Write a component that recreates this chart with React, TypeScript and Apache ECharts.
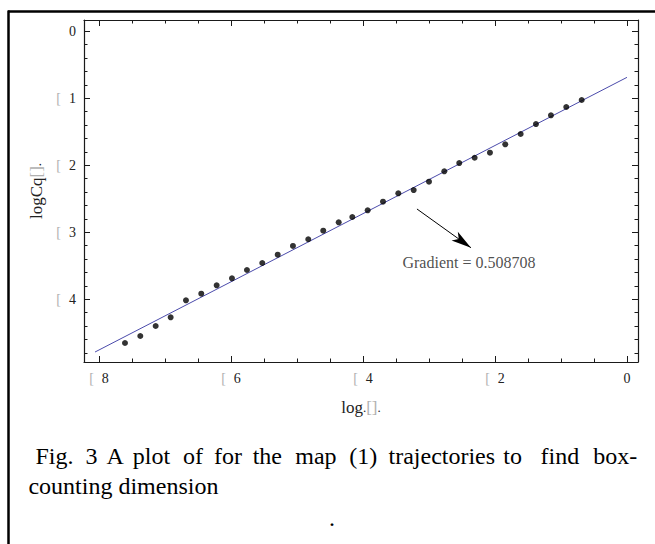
import React, { useEffect, useRef } from "react";
import * as echarts from "echarts";

// ---- data ----
const logEps = [
  -7.606, -7.374, -7.141, -6.914, -6.682, -6.45, -6.217, -5.985, -5.758, -5.526,
  -5.292, -5.061, -4.829, -4.602, -4.368, -4.162, -3.929, -3.697, -3.465, -3.232,
  -3.0, -2.768, -2.541, -2.308, -2.076, -1.844, -1.611, -1.379, -1.152, -0.92, -0.686,
];
const logCq = [
  -4.652, -4.548, -4.399, -4.269, -4.015, -3.916, -3.791, -3.687, -3.563, -3.458,
  -3.334, -3.204, -3.104, -2.976, -2.851, -2.772, -2.672, -2.543, -2.418, -2.369,
  -2.245, -2.09, -1.966, -1.887, -1.812, -1.687, -1.533, -1.384, -1.254, -1.13, -1.025,
];
const fitX = [-8.06, 0];
const fitY = [-4.787, -0.687];

const xMajorTicks = [-8, -6, -4, -2, 0];
const xMinorTicks = [-7.5, -7, -6.5, -5.5, -5, -4.5, -3.5, -3, -2.5, -1.5, -1, -0.5];
const yMajorTicks = [0, -1, -2, -3, -4];
const yMinorTicks = [
  -0.2, -0.4, -0.6, -0.8, -1.2, -1.4, -1.6, -1.8, -2.2, -2.4, -2.6, -2.8,
  -3.2, -3.4, -3.6, -3.8, -4.2, -4.4, -4.6, -4.8,
];

const gradientText = "Gradient = 0.508708";
const gradientAt = [-2.394, -3.448];
const arrowFrom = [-3.182, -2.652];
const arrowTo = [-2.364, -3.23];

const captionWords = ["Fig.", "3", "A", "plot", "of", "for", "the", "map", "(1)", "trajectories", "to", "find", "box-"];
const captionLine2 = "counting dimension";

// ---- layout ----
const X_MIN = -8.227;
const X_MAX = 0.167;
const Y_MIN = -4.936;
const Y_MAX = 0.169;
const SERIF = "Liberation Serif";
const wordX = [35.5, 85.6, 106.5, 132.8, 183, 213.9, 252.7, 295.3, 349.2, 388.5, 503.3, 540.5, 593.2];

const frameColor = "#1a1a1a";

const labelFmt = (v: number) => (v === 0 ? "{n|0}" : "{g|[}{n|" + Math.abs(v) + "}");
const labelRich = {
  n: { fontFamily: SERIF, fontSize: 14, color: "#222" },
  g: { fontFamily: SERIF, fontSize: 14, color: "#b0b0b0", padding: [0, 8, 0, 0] },
};

function makeAxis(
  dim: "x" | "y",
  position: string,
  ticks: number[],
  len: number,
  withLabels: boolean,
  withLine: boolean,
  extra: any = {}
) {
  return {
    type: "value",
    gridIndex: 0,
    position,
    min: dim === "x" ? X_MIN : Y_MIN,
    max: dim === "x" ? X_MAX : Y_MAX,
    axisLine: { show: withLine, onZero: false, lineStyle: { color: frameColor, width: 1.2 } },
    axisTick: {
      show: true,
      inside: true,
      length: len,
      customValues: ticks,
      lineStyle: { color: frameColor, width: 1 },
    },
    axisLabel: withLabels
      ? {
          show: true,
          customValues: ticks,
          formatter: labelFmt,
          margin: dim === "x" ? 9 : 8,
          fontFamily: SERIF,
          fontSize: 14,
          color: "#222",
          rich: labelRich,
        }
      : { show: false },
    splitLine: { show: false },
    minorTick: { show: false },
    ...extra,
  };
}

function captionText(text: string, x: number, y: number, align = "left") {
  return {
    type: "text",
    x,
    y,
    style: {
      text,
      font: "24px 'Liberation Serif'",
      fontFamily: SERIF,
      fontSize: 24,
      fill: "#000",
      verticalAlign: "middle",
      align,
    },
  };
}

export default function App() {
  const ref = useRef<HTMLDivElement>(null);

  useEffect(() => {
    if (!ref.current) return;
    const chart = echarts.init(ref.current, null, { renderer: "svg" });

    const graphics: any[] = [
      {
        type: "line",
        shape: { x1: 8, y1: 11.5, x2: 655, y2: 11.5 },
        style: { stroke: "#000", lineWidth: 2.5 },
      },
      {
        type: "line",
        shape: { x1: 8.5, y1: 10.5, x2: 8.5, y2: 544 },
        style: { stroke: "#000", lineWidth: 2.5 },
      },
    ];
    captionWords.forEach((w, i) => graphics.push(captionText(w, wordX[i], 456)));
    graphics.push(captionText(captionLine2, 28.4, 486));
    graphics.push(captionText(".", 332, 518, "center"));

    const nameRich = {
      a: { fontFamily: SERIF, fontSize: 17, color: "#222" },
      s: { fontFamily: SERIF, fontSize: 13, color: "#222" },
      b: { fontFamily: SERIF, fontSize: 17, color: "#b0b0b0" },
    };

    const option: any = {
      animation: false,
      backgroundColor: "#fff",
      textStyle: { fontFamily: SERIF },
      grid: {
        left: 84,
        top: 20,
        right: 17,
        bottom: 182,
        containLabel: false,
        outerBoundsMode: "none",
      },
      xAxis: [
        makeAxis("x", "bottom", xMajorTicks, 6, true, true, {
          name: "{a|log}{s|.}{b|[]}{s|.}",
          nameLocation: "middle",
          nameGap: 37,
          nameTextStyle: { fontFamily: SERIF, rich: nameRich },
        }),
        makeAxis("x", "bottom", xMinorTicks, 3.5, false, false),
        makeAxis("x", "top", xMajorTicks, 6, false, true),
        makeAxis("x", "top", xMinorTicks, 3.5, false, false),
      ],
      yAxis: [
        makeAxis("y", "left", yMajorTicks, 6, true, true, {
          name: "{a|logCq}{b|[]}{s|.}",
          nameLocation: "middle",
          nameRotate: 90,
          nameGap: 35,
          nameTextStyle: { fontFamily: SERIF, rich: nameRich },
        }),
        makeAxis("y", "left", yMinorTicks, 3.5, false, false),
        makeAxis("y", "right", yMajorTicks, 6, false, true),
        makeAxis("y", "right", yMinorTicks, 3.5, false, false),
      ],
      series: [
        {
          name: "fit",
          type: "line",
          xAxisIndex: 0,
          yAxisIndex: 0,
          data: fitX.map((x, i) => [x, fitY[i]]),
          showSymbol: false,
          symbol: "none",
          lineStyle: { color: "#4b4bab", width: 1 },
          z: 2,
        },
        {
          name: "points",
          type: "scatter",
          xAxisIndex: 0,
          yAxisIndex: 0,
          data: logEps.map((x, i) => [x, logCq[i]]),
          symbol: "circle",
          symbolSize: 6,
          itemStyle: { color: "#000" },
          z: 3,
        },
        {
          name: "annotation",
          type: "scatter",
          xAxisIndex: 0,
          yAxisIndex: 0,
          data: [gradientAt],
          symbol: "circle",
          symbolSize: 1,
          itemStyle: { color: "rgba(0,0,0,0)" },
          label: {
            show: true,
            position: "inside",
            formatter: gradientText,
            fontFamily: SERIF,
            fontSize: 16,
            color: "#222",
          },
          markLine: {
            silent: true,
            symbol: ["none", "arrow"],
            symbolSize: [8, 20],
            label: { show: false },
            lineStyle: { color: "#000", width: 1, type: "solid" },
            data: [[{ coord: arrowFrom }, { coord: arrowTo }]],
          },
          z: 4,
        },
      ],
      graphic: graphics,
    };

    chart.setOption(option);
    return () => chart.dispose();
  }, []);

  return (
    <div
      ref={ref}
      style={{ position: "absolute", left: 0, top: 0, width: 655, height: 544, background: "#fff" }}
    />
  );
}
